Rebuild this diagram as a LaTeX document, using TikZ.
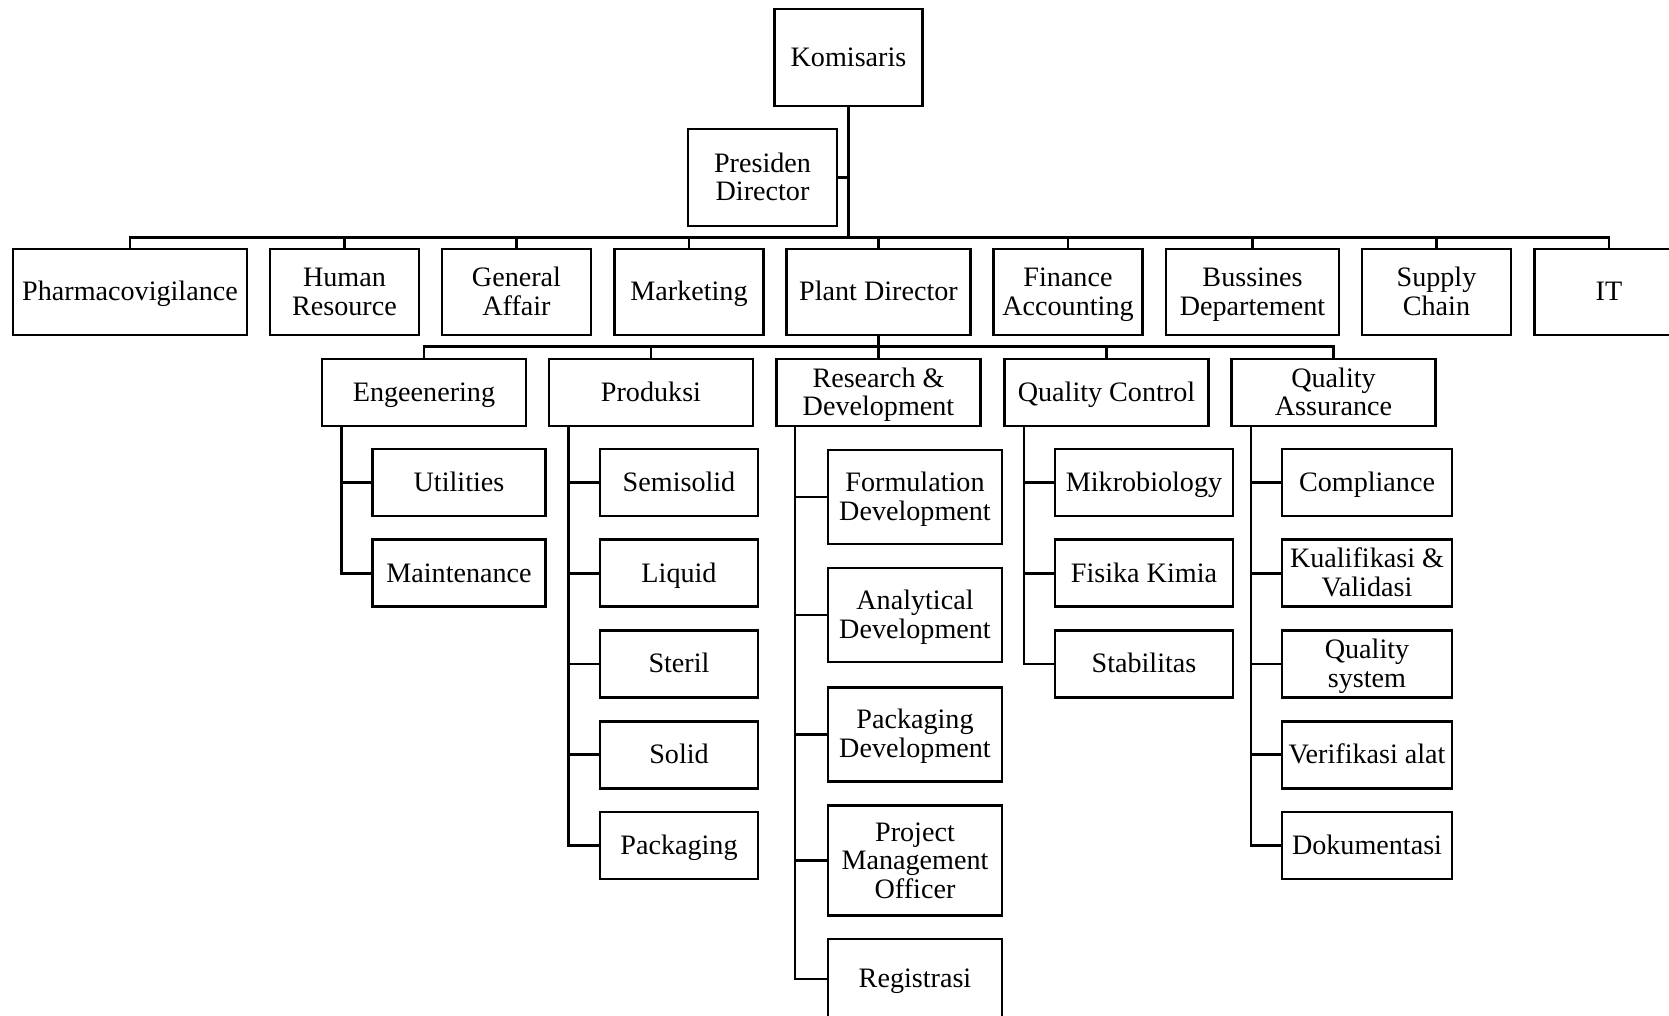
\documentclass[tikz,border=0pt]{standalone}
\usepackage{fontspec}
\setmainfont{Liberation Serif}
\tikzset{box/.style={draw, line width=0.8pt, align=flush center, inner sep=0pt,
  font=\fontsize{8pt}{8.1pt}\selectfont,
  execute at begin node={\rule{0pt}{7.5pt}}, execute at end node=\strut},
%boxes of the second level and below
deptbox/.style={box, text width=2.04cm, minimum height=0.67cm},
subbox/.style={box, minimum height=0.67cm},
link/.style={line width=0.8pt}}

\begin{document}
\begin{tikzpicture}[x=0.01cm,y=-0.01cm]
\useasboundingbox (0,0) rectangle (1669,1016);
% top
\node[box, text width=1.48cm, minimum height=0.97cm] (kom) at (848.5,57.5) {Komisaris};
\node[box, text width=1.49cm, minimum height=0.97cm] (pres) at (762.5,177.5) {Presiden\\Director};
\coordinate (bus1) at (848.5,237.7);
\draw[link] (kom.south) -- (bus1);
\draw[link] (pres.east) -- (pres.east -| bus1);

% directors
\foreach \nm/\px/\bw/\txt in {pv/130/2.34/Pharmacovigilance, hr/344.5/1.49/{Human\\Resource},
  ga/516.5/1.49/{General\\Affair}, mkt/689/1.49/Marketing, pd/878.5/1.84/Plant Director,
  fa/1068/1.49/{Finance\\Accounting}, bd/1252.5/1.73/{Bussines\\Departement},
  sc/1436.5/1.49/{Supply\\Chain}, it/1609/1.49/IT}
{
  \node[box, text width=\bw cm, minimum height=0.86cm] (\nm) at (\px,292) {\txt};
  \draw[link] (\nm.north) |- (bus1);
}

% plant director
\coordinate (bus2) at (878.5,346.7);
\draw[link] (pd.south) -- (bus2);
\foreach \nm/\px/\txt in {eng/424/Engeenering, prod/651/Produksi, rnd/878.5/{Research \&\\Development},
  qc/1106.5/Quality Control, qa/1333.5/{Quality\\Assurance}}
{
  \node[deptbox] (\nm) at (\px,392.5) {\txt};
  \draw[link] (\nm.north) |- (bus2);
}

% engeenering
\foreach \nm/\py/\txt in {util/482.5/Utilities, mnt/573.3/Maintenance}
{
  \node[subbox, text width=1.735cm] (\nm) at (459,\py) {\txt};
  \draw[link] ([xshift=0.21cm]eng.south west) |- (\nm.west);
}

% produksi
\foreach \nm/\py/\txt in {semi/482.5/Semisolid, liq/573.3/Liquid, ster/664/Steril,
  sol/754.8/Solid, pack/845.5/Packaging}
{
  \node[subbox, text width=1.58cm] (\nm) at (679,\py) {\txt};
  \draw[link] ([xshift=0.21cm]prod.south west) |- (\nm.west);
}

% research & development
\foreach \nm/\py/\bh/\txt in {fd/497/0.94/{Formulation\\Development}, ad/615/0.94/{Analytical\\Development},
  pkd/734.3/0.94/{Packaging\\Development}, pmo/860.7/1.10/{Project\\Management\\Officer},
  reg/979/0.80/Registrasi}
{
  \node[box, text width=1.74cm, minimum height=\bh cm] (\nm) at (915,\py) {\txt};
  \draw[link] ([xshift=0.2cm]rnd.south west) |- (\nm.west);
}

% quality control
\foreach \nm/\py/\txt in {mik/482.5/Mikrobiology, fk/573.3/Fisika Kimia, stab/664/Stabilitas}
{
  \node[subbox, text width=1.78cm] (\nm) at (1144,\py) {\txt};
  \draw[link] ([xshift=0.21cm]qc.south west) |- (\nm.west);
}

% quality assurance
\foreach \nm/\py/\txt in {comp/482.5/Compliance, kv/573.3/{Kualifikasi \&\\Validasi},
  qs/664/{Quality\\system}, va/754.8/Verifikasi~alat, dok/845.5/Dokumentasi}
{
  \node[subbox, text width=1.70cm] (\nm) at (1367,\py) {\txt};
  \draw[link] ([xshift=0.21cm]qa.south west) |- (\nm.west);
}
\end{tikzpicture}
\end{document}
